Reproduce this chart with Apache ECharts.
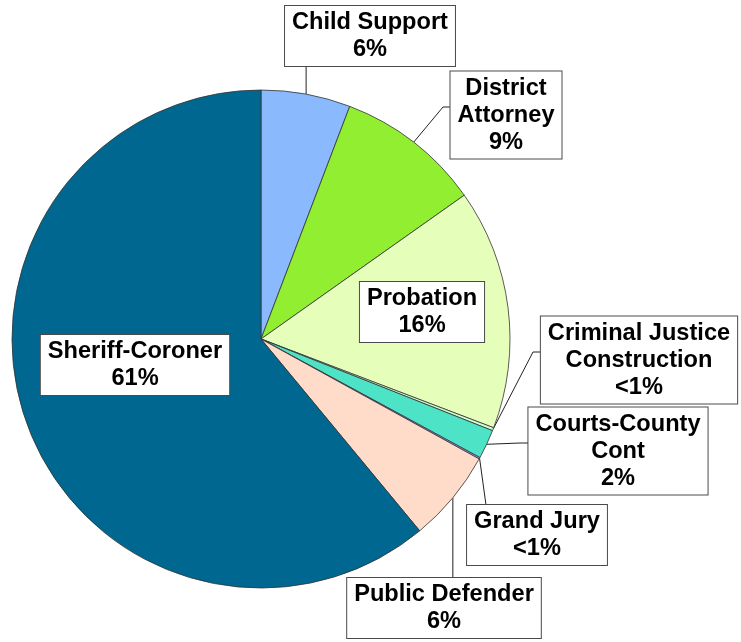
<!DOCTYPE html>
<html>
<head>
<meta charset="utf-8">
<script src="https://cdn.jsdelivr.net/npm/echarts@6/dist/echarts.min.js"></script>
<style>
  html, body { margin: 0; padding: 0; background: #ffffff; }
  #chart { width: 741px; height: 642px; }
</style>
</head>
<body>
<div id="chart"></div>
<script>
// ---- data ----
const categories = [
  'Child Support',
  'District\nAttorney',
  'Probation',
  'Criminal Justice\nConstruction',
  'Courts-County\nCont',
  'Grand Jury',
  'Public Defender',
  'Sheriff-Coroner'
];
const values = [5.8, 9.4, 15.6, 0.2, 1.9, 0.1, 6.0, 61.0];
const colors = ['#8AB9FE', '#91EE30', '#E5FFBB', '#CCFFCC', '#4DE3C6', '#9999FF', '#FFDCCA', '#006790'];

// ---- label placement (layout only) ----
// box centre and leader-line bend points
const labelPlacement = [
  { x: 370, y: 36,  bend: [[null, 67]] },
  { x: 506, y: 115, bend: [[443, 107], [451, 107]] },
  { x: 422, y: 312, inside: true },
  { x: 639, y: 360, bend: [[533, 352], [541, 352]] },
  { x: 618, y: 451, bend: [[520, 443], [529, 443]] },
  { x: 537, y: 535, bend: [[486, 505]] },
  { x: 444, y: 608, bend: [[null, 578]] },
  { x: 135, y: 365, inside: true }
];

const chart = echarts.init(document.getElementById('chart'));
const data = categories.map((c, i) => ({
  name: c,
  value: values[i],
  itemStyle: { color: colors[i] },
  label: { position: labelPlacement[i].inside ? 'inside' : 'outside' },
  labelLine: { show: !labelPlacement[i].inside }
}));

chart.setOption({
  animation: false,
  backgroundColor: '#ffffff',
  series: [{
    type: 'pie',
    center: [261, 339],
    radius: 249,
    startAngle: 90,
    clockwise: true,
    avoidLabelOverlap: false,
    data: data,
    itemStyle: { borderColor: '#333333', borderWidth: 0.8 },
    emphasis: { disabled: true },
    label: {
      show: true,
      formatter: function (p) {
        const pct = Math.round(p.percent);
        return p.name + '\n' + (pct < 1 ? '<1%' : pct + '%');
      },
      fontFamily: 'Liberation Sans, Arial, sans-serif',
      fontWeight: 'bold',
      fontSize: 23.6,
      lineHeight: 27,
      color: '#000000',
      align: 'center',
      backgroundColor: '#ffffff',
      borderColor: '#4a4a4a',
      borderWidth: 1,
      padding: [6, 7, 0, 7]
    },
    labelLine: {
      show: true,
      lineStyle: { color: '#222222', width: 1 }
    },
    labelLayout: function (params) {
      const pl = labelPlacement[params.dataIndex];
      const out = { x: pl.x, y: pl.y, align: 'center', verticalAlign: 'middle' };
      if (!pl.inside && params.labelLinePoints && params.labelLinePoints.length) {
        const start = params.labelLinePoints[0];
        const pts = [start.slice()];
        pl.bend.forEach(function (b) {
          pts.push([b[0] == null ? start[0] : b[0], b[1]]);
        });
        while (pts.length < 3) pts.push(pts[pts.length - 1].slice());
        out.labelLinePoints = pts;
      }
      return out;
    }
  }]
});
</script>
</body>
</html>
